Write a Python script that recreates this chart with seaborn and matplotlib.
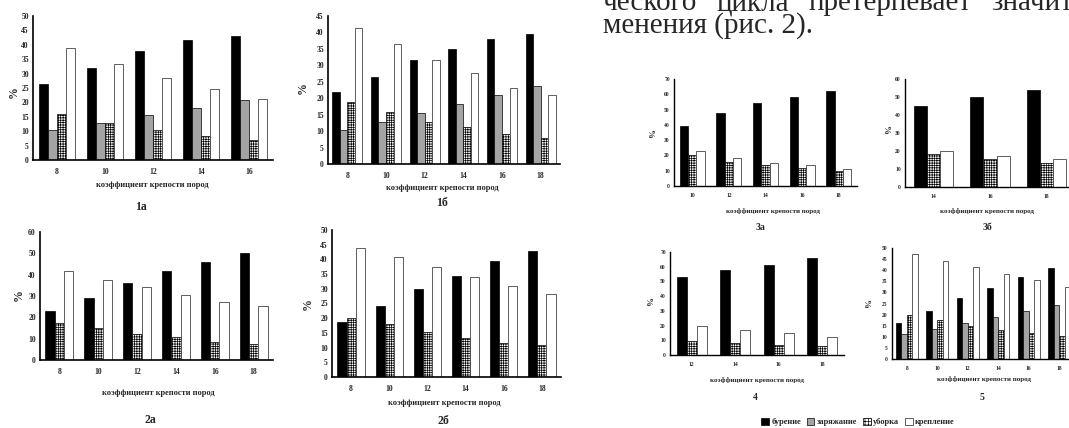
import numpy as np
import pandas as pd
import seaborn as sns
import matplotlib
matplotlib.use('Agg')
import matplotlib.pyplot as plt
from matplotlib.patches import Patch

sns.set_style('white')
plt.rcParams['font.family'] = ['Liberation Serif', 'DejaVu Serif']
plt.rcParams['hatch.linewidth'] = 0.5
plt.rcParams['hatch.color'] = 'black'

# stages of the cycle
stages = ['бурение', 'заряжание', 'уборка', 'крепление']
colors = {'бурение': '#000000', 'заряжание': '#a4a4a4', 'уборка': '#ffffff', 'крепление': '#ffffff'}

# 1а
cats_1a = [8, 10, 12, 14, 16]
bur_1a = [26.5, 32.1, 37.8, 41.5, 43.2]
zar_1a = [10.4, 12.7, 15.6, 18.2, 21.0]
ub_1a = [15.9, 13.0, 10.3, 8.3, 6.9]
kr_1a = [39.0, 33.3, 28.3, 24.5, 21.1]

# 1б
cats_1b = [8, 10, 12, 14, 16, 18]
bur_1b = [21.9, 26.6, 31.5, 35.0, 37.9, 39.4]
zar_1b = [10.4, 12.7, 15.5, 18.2, 20.9, 23.7]
ub_1b = [18.7, 15.8, 12.9, 11.2, 9.2, 7.8]
kr_1b = [41.2, 36.5, 31.5, 27.7, 23.0, 21.1]

# 2а
cats_2a = [8, 10, 12, 14, 16, 18]
bur_2a = [23.0, 29.1, 36.1, 41.7, 45.8, 50.0]
ub_2a = [17.4, 15.0, 12.1, 10.6, 8.6, 7.6]
kr_2a = [41.9, 37.7, 34.0, 30.3, 27.4, 25.1]

# 2б
cats_2b = [8, 10, 12, 14, 16, 18]
bur_2b = [18.6, 24.1, 30.0, 34.3, 39.4, 43.0]
ub_2b = [20.0, 17.9, 15.3, 13.3, 11.6, 10.8]
kr_2b = [43.8, 40.8, 37.4, 33.9, 31.0, 28.4]

# 3а
cats_3a = [10, 12, 14, 16, 18]
bur_3a = [39.0, 47.8, 54.0, 58.0, 62.0]
ub_3a = [20.0, 15.9, 14.0, 12.0, 9.8]
kr_3a = [22.9, 18.3, 14.8, 13.5, 10.9]

# 3б
cats_3b = [14, 16, 18]
bur_3b = [45.0, 50.1, 54.0]
ub_3b = [18.2, 15.3, 13.2]
kr_3b = [20.1, 17.5, 15.3]

# 4
cats_4 = [12, 14, 16, 18]
bur_4 = [53.0, 58.0, 61.4, 65.9]
ub_4 = [9.5, 7.9, 6.8, 5.9]
kr_4 = [20.0, 16.7, 14.7, 12.2]

# 5
cats_5 = [8, 10, 12, 14, 16, 18]
bur_5 = [16.4, 21.8, 27.3, 32.2, 37.0, 41.0]
zar_5 = [11.2, 13.4, 16.1, 18.8, 21.5, 24.2]
ub_5 = [19.9, 17.6, 15.0, 13.1, 11.8, 10.4]
kr_5 = [47.3, 44.0, 41.3, 38.2, 35.4, 32.5]

xlab = 'коэффициент крепости пород'

W, H = 1069, 428
fig = plt.figure(figsize=(W / 100, H / 100), dpi=100)
fig.patch.set_facecolor('white')


def fx(x):
    return x / W


def fy(y):
    return 1 - y / H


def rect(l, t, r, b):
    return [l / W, 1 - b / H, (r - l) / W, (b - t) / H]


def panel(box, cats, vals, ymax, ystep, width, fs, lw, xpad):
    ax = fig.add_axes(box)
    names = [s for s in stages if s in vals]
    rows = [(str(c), s, v) for s in names for c, v in zip(cats, vals[s])]
    df = pd.DataFrame(rows, columns=['k', 'stage', 'v'])
    sns.barplot(df, x='k', y='v', hue='stage', hue_order=names,
                order=[str(c) for c in cats], palette=colors, width=width,
                errorbar=None, saturation=1, edgecolor='black', linewidth=0.5,
                legend=False, ax=ax)
    for cont, s in zip(ax.containers, names):
        for p in cont:
            if s == 'уборка':
                p.set_hatch('+++++++')
            if s == 'крепление':
                p.set_edgecolor('#444444')
                p.set_linewidth(0.6)
    n = len(cats)
    ax.set_xlim(-0.5, n - 0.5)
    ax.set_ylim(0, ymax)
    yt = np.arange(0, ymax + 0.1, ystep)
    ax.set_yticks(yt)
    ax.set_yticklabels([f'{int(t)}' for t in yt], fontsize=fs, fontweight='bold')
    ax.set_xticks(range(n))
    ax.set_xticklabels([str(c) for c in cats], fontsize=fs, fontweight='bold')
    ax.set_xticks(np.arange(-0.5, n, 1), minor=True)
    ax.tick_params(axis='x', which='major', length=0, pad=xpad)
    ax.tick_params(axis='x', which='minor', direction='inout', length=6, width=lw)
    ax.tick_params(axis='y', direction='inout', length=4, width=lw, pad=1)
    ax.set_xlabel('')
    ax.set_ylabel('')
    for sp in ['top', 'right']:
        ax.spines[sp].set_visible(False)
    for sp in ['left', 'bottom']:
        ax.spines[sp].set_linewidth(lw)
        ax.spines[sp].set_color('black')
    ax.set_facecolor('none')
    return ax


def labels(xl, yl, pct, tag, fs_x, fs_p, fs_t):
    fig.text(fx(xl[0]), fy(xl[1]), xlab, ha='center', va='center',
             fontsize=fs_x, fontweight='bold')
    fig.text(fx(pct[0]), fy(pct[1]), '%', ha='center', va='center',
             rotation=90, fontsize=fs_p, fontweight='bold')
    fig.text(fx(yl[0]), fy(yl[1]), tag, ha='center', va='center',
             fontsize=fs_t, fontweight='bold')


panel(rect(33, 16, 273, 160), cats_1a,
      {'бурение': bur_1a, 'заряжание': zar_1a, 'уборка': ub_1a, 'крепление': kr_1a},
      50, 5, 0.75, 5.5, 1.2, 6)
labels((152, 185), (141, 207), (14, 92), '1а', 6, 8.5, 8.5)

panel(rect(328, 16, 560, 164), cats_1b,
      {'бурение': bur_1b, 'заряжание': zar_1b, 'уборка': ub_1b, 'крепление': kr_1b},
      45, 5, 0.78, 5.5, 1.2, 6)
labels((442, 188), (442, 203), (303, 88), '1б', 6, 8.5, 8.5)

panel(rect(40, 232, 273, 360), cats_2a,
      {'бурение': bur_2a, 'уборка': ub_2a, 'крепление': kr_2a},
      60, 10, 0.72, 5.5, 1.2, 6)
labels((158, 393), (150, 420), (19, 295), '2а', 6, 8.5, 8.5)

panel(rect(332, 230, 561, 377), cats_2b,
      {'бурение': bur_2b, 'уборка': ub_2b, 'крепление': kr_2b},
      50, 5, 0.72, 5.5, 1.2, 6)
labels((444, 403), (443, 421), (308, 304), '2б', 6, 8.5, 8.5)

panel(rect(674, 79, 857, 186), cats_3a,
      {'бурение': bur_3a, 'уборка': ub_3a, 'крепление': kr_3a},
      70, 10, 0.68, 4, 1.0, 5)
labels((773, 211), (761, 228), (653, 133), '3а', 5, 6.5, 7)

panel(rect(905, 79, 1075, 187), cats_3b,
      {'бурение': bur_3b, 'уборка': ub_3b, 'крепление': kr_3b},
      60, 10, 0.69, 4, 1.0, 5)
labels((987, 211), (987, 228), (889, 130), '3б', 5, 6.5, 7)

panel(rect(670, 252, 844, 355), cats_4,
      {'бурение': bur_4, 'уборка': ub_4, 'крепление': kr_4},
      70, 10, 0.70, 4, 1.0, 5)
labels((757, 380), (755, 397), (651, 302), '4', 5, 6.5, 7)

panel(rect(891.5, 248, 1074.5, 359), cats_5,
      {'бурение': bur_5, 'заряжание': zar_5, 'уборка': ub_5, 'крепление': kr_5},
      50, 5, 0.73, 4, 1.0, 5)
labels((984, 379), (982, 397), (869, 303), '5', 5, 6.5, 7)

# legend
handles = [Patch(facecolor=colors['бурение'], edgecolor='black', linewidth=0.5),
           Patch(facecolor=colors['заряжание'], edgecolor='black', linewidth=0.5),
           Patch(facecolor='white', edgecolor='black', linewidth=0.5, hatch='+++++'),
           Patch(facecolor='white', edgecolor='#444444', linewidth=0.6)]
fig.legend(handles, stages, loc='center', bbox_to_anchor=(fx(858), fy(422)),
           ncol=4, frameon=False, handlelength=0.9, handleheight=0.9,
           handletextpad=0.3, columnspacing=0.7,
           prop={'weight': 'bold', 'size': 6})

# body text of the page (first line justified between the margins)
line1 = ['ческого', 'цикла', 'претерпевает', 'значит']
left, right = 603, 1073
renderer = fig.canvas.get_renderer()
words = [fig.text(0, fy(10), w, ha='left', va='baseline', fontsize=21) for w in line1]
widths = [t.get_window_extent(renderer).width for t in words]
gap = (right - left - sum(widths)) / (len(words) - 1)
x = left
for t, w in zip(words, widths):
    t.set_x(fx(x))
    x += w + gap
fig.text(fx(left), fy(33), 'менения (рис. 2).', ha='left', va='baseline', fontsize=21)

fig.savefig('out.png', dpi=100, facecolor='white')
